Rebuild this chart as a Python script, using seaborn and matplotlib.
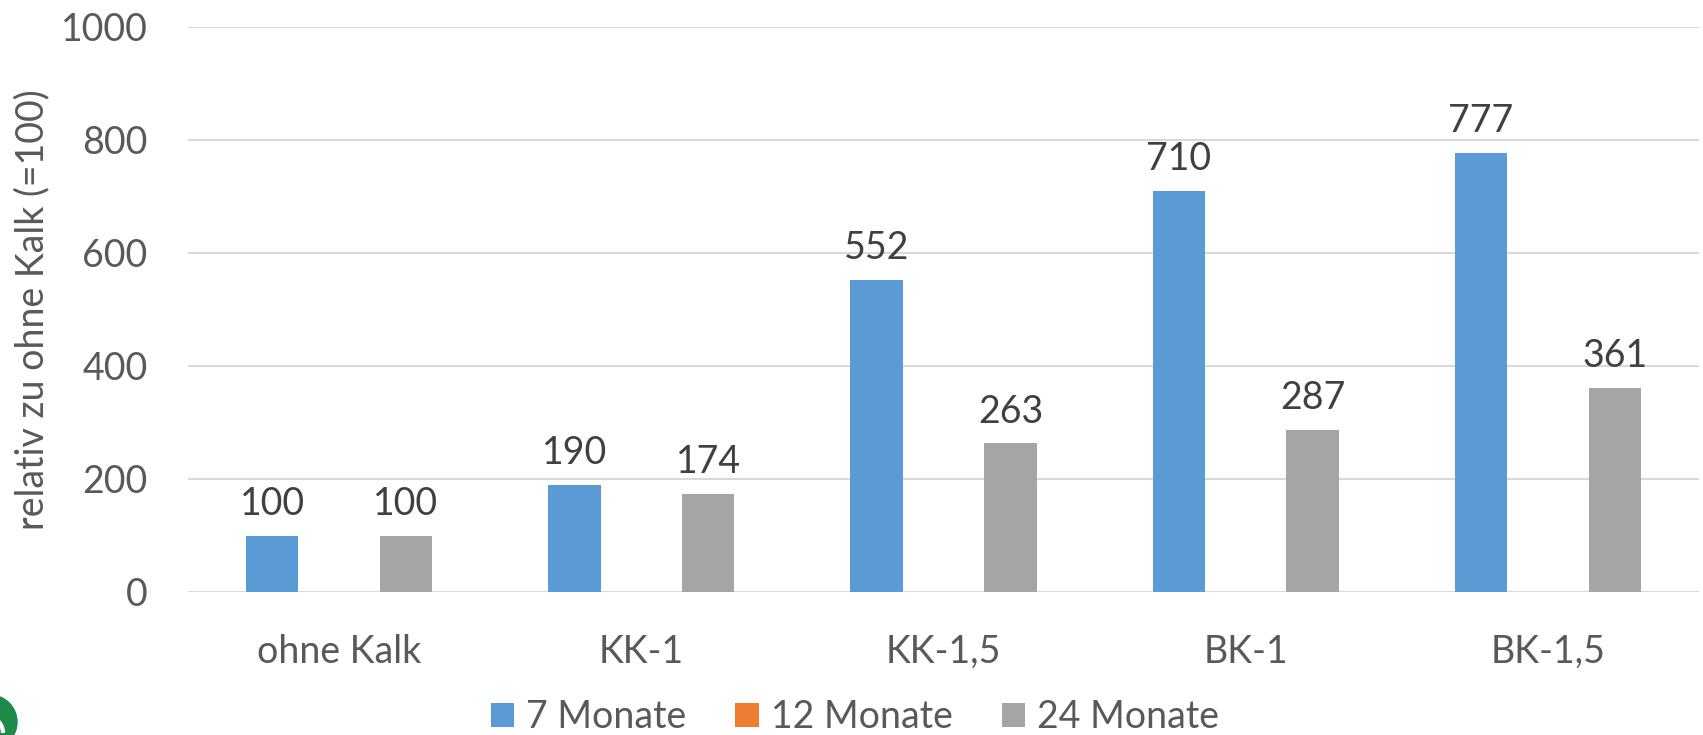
import matplotlib
matplotlib.use("Agg")
import matplotlib.pyplot as plt
import matplotlib.patches as mpatches
import matplotlib.transforms as mtransforms
import numpy as np
import pandas as pd
import seaborn as sns

# Chart data
categories = ["ohne Kalk", "KK-1", "KK-1,5", "BK-1", "BK-1,5"]
series = ["7 Monate", "12 Monate", "24 Monate"]
values_7 = [100, 190, 552, 710, 777]
values_12 = [np.nan, np.nan, np.nan, np.nan, np.nan]
values_24 = [100, 174, 263, 287, 361]
y_ticks = [0, 200, 400, 600, 800, 1000]
y_label = "relativ zu ohne Kalk (=100)"

colors = {"7 Monate": "#5B9BD5", "12 Monate": "#ED7D31", "24 Monate": "#A5A5A5"}

df = pd.DataFrame({
    "Variante": categories * 3,
    "Zeitraum": [series[0]] * 5 + [series[1]] * 5 + [series[2]] * 5,
    "Wert": values_7 + values_12 + values_24,
})

sns.set_theme(style="white")
plt.rcParams["font.family"] = ["Lato", "DejaVu Sans"]

fig = plt.figure(figsize=(17.03, 7.35), dpi=100)
ax = fig.add_axes([188 / 1703, 1 - 592 / 735, (1699 - 188) / 1703, (592 - 27) / 735])

sns.barplot(
    data=df, x="Variante", y="Wert", hue="Zeitraum",
    order=categories, hue_order=series, palette=colors,
    width=0.664, gap=0.214, linewidth=0, saturation=1,
    errorbar=None, ax=ax,
)

ax.set_ylim(0, 1000)
ax.set_xlim(-0.5, len(categories) - 0.5)
ax.set_yticks(y_ticks)
ax.set_yticklabels([str(t) for t in y_ticks])
ax.yaxis.grid(True, color="#D9D9D9", linewidth=1.5)
ax.xaxis.grid(False)
ax.set_axisbelow(True)
for s in ax.spines.values():
    s.set_visible(False)

tick_fs = 27
ax.tick_params(axis="y", length=0, pad=29, labelsize=tick_fs, labelcolor="#595959")
ax.tick_params(axis="x", length=0, pad=30, labelsize=tick_fs, labelcolor="#595959")
ax.set_xlabel("")
ax.set_ylabel(y_label, fontsize=tick_fs, color="#595959")
ax.yaxis.set_label_coords(-0.091, 0.5)

# value labels above the bars
for cont in ax.containers:
    if len(cont) == 0:
        continue
    ax.bar_label(cont, fmt="%.0f", padding=10, fontsize=tick_fs, color="#404040")

# legend below the plot
handles, labels = ax.get_legend_handles_labels()
if ax.get_legend() is not None:
    ax.get_legend().remove()
fig.legend(
    handles, labels, loc="center", bbox_to_anchor=(0.502, 0.024), ncol=3,
    frameon=False, fontsize=tick_fs, labelcolor="#595959",
    handlelength=0.62, handleheight=0.62, handletextpad=0.33,
    columnspacing=1.3, borderpad=0, borderaxespad=0,
)

# corner emblem
ident = mtransforms.IdentityTransform()
fig.patches.append(mpatches.Circle((-10, 13), 27, color="#1E8A4C", transform=ident, figure=fig))
fig.patches.append(mpatches.Arc((-14, 2), 34, 34, theta1=0, theta2=90, color="white",
                                linewidth=3, transform=ident, figure=fig))

fig.savefig("out.png", dpi=100)
